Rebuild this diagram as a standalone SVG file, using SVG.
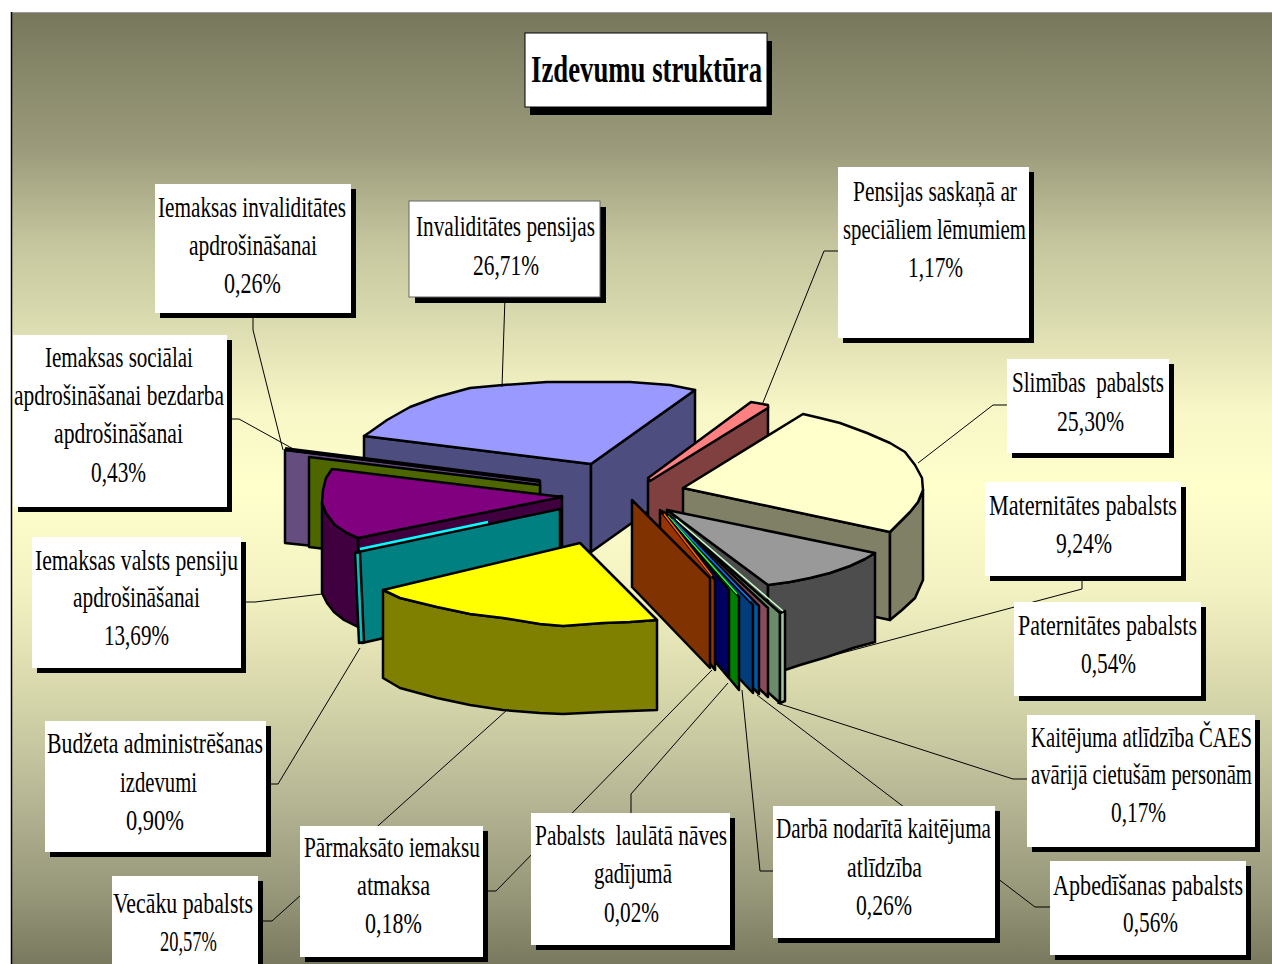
<svg xmlns="http://www.w3.org/2000/svg" width="1272" height="964" viewBox="0 0 1272 964">
<style>
.sh{fill:#000}
.box{fill:#fff}
.t{font-family:"Liberation Serif","Times New Roman",serif;font-size:29px;fill:#000;white-space:pre}
.ttl{font-family:"Liberation Serif","Times New Roman",serif;font-size:38px;font-weight:bold;fill:#000}
.s{stroke:#000;stroke-width:2.5;stroke-linejoin:round}
.ld{fill:none;stroke:#000;stroke-width:1}
</style>
<defs>
<linearGradient id="bg" x1="0" y1="0" x2="0" y2="1">
<stop offset="0" stop-color="#77775c"/>
<stop offset="0.145" stop-color="#9c9c7c"/>
<stop offset="0.25" stop-color="#c8c8a0"/>
<stop offset="0.303" stop-color="#d5d5ab"/>
<stop offset="0.42" stop-color="#f7f7c7"/>
<stop offset="0.5" stop-color="#ffffcc"/>
<stop offset="0.6" stop-color="#f3f3c3"/>
<stop offset="0.723" stop-color="#d5d5aa"/>
<stop offset="0.83" stop-color="#b5b594"/>
<stop offset="0.93" stop-color="#959578"/>
<stop offset="1" stop-color="#78785e"/>
</linearGradient>
</defs>
<rect x="0" y="0" width="1272" height="964" fill="#fff"/>
<rect x="11" y="12" width="1262" height="953" fill="url(#bg)"/>
<line x1="11" y1="12.5" x2="1272" y2="12.5" stroke="#9a9a9a" stroke-width="1"/>
<line x1="11.5" y1="12" x2="11.5" y2="964" stroke="#000" stroke-width="1.5"/>

<g id="pie">
<g id="slice-invaliditates-pensijas">
<path class="s" fill="#4d4d80" d="M364,436 L591,464 L591,552 L364,524 Z"/>
<path class="s" fill="#4d4d80" d="M591,464 L695,390 L695,478 L591,552 Z"/>
<path class="s" fill="#9999ff" d="M364,436 L370,432 L387,420 L410,407 L437,397 L470,388 L503,385 L547,382 L630,382 L670,385 L695,390 L591,464 Z"/>
</g>
<g id="slice-pensijas-specialiem">
<path class="s" fill="#804040" d="M648,480 L768,407 L768,495 L648,568 Z"/>
<path class="s" fill="#ff8080" d="M648,478 L751,402 L768,405 L768,408 L650,481 Z"/>
</g>
<g id="slice-slimibas">
<path class="s" fill="#808066" d="M683,488 L890,532 L890,620 L683,576 Z"/>
<path class="s" fill="#808066" d="M890,532 L900,522 L910,512 L918,502 L923,490 L923,580 L915,598 L902,610 L890,620 Z"/>
<path class="s" fill="#ffffcc" d="M683,488 L803,414 L820,418 L840,423 L867,433 L890,443 L905,452 L915,465 L922,478 L923,490 L918,502 L910,512 L900,522 L890,532 Z"/>
</g>
<g id="slice-maternitates">
<path class="s" fill="#4d4d4d" d="M667,510 L768,585 L768,673 L667,598 Z"/>
<path class="s" fill="#4d4d4d" d="M768,585 L790,582 L810,578 L830,573 L850,566 L865,559 L875,553 L875,642 L853,648 L827,657 L800,665 L785,670 L768,673 Z"/>
<path class="s" fill="#999999" d="M667,510 L875,553 L865,559 L850,566 L830,573 L810,578 L790,582 L768,585 Z"/>
</g>
<g id="thin-slices">
<path class="s" fill="#6b8c6b" d="M672,518 L780,613 L780,703 L672,606 Z"/>
<path class="s" fill="#a0c8a0" stroke-width="1.5" d="M780,613 L785,611 L785,701 L780,703 Z"/>
<line x1="676" y1="519" x2="783" y2="611" stroke="#ccffcc" stroke-width="1.5"/>
<path class="s" fill="#8a4b5a" d="M670,516 L768,608 L768,697 L670,604 Z"/>
<path class="s" fill="#0058a8" d="M668,515 L759,606 L759,694 L668,603 Z"/>
<path class="s" fill="#003d7a" d="M666,514 L753,605 L753,693 L666,602 Z"/>
<line x1="672" y1="519" x2="751" y2="601" stroke="#0080ff" stroke-width="1.5"/>
<path class="s" fill="#008000" d="M664,512 L739,597 L739,690 L664,600 Z"/>
<line x1="668" y1="516" x2="737" y2="594" stroke="#33ff33" stroke-width="1.5"/>
<path class="s" fill="#000060" d="M662,511 L729,590 L729,678 L662,599 Z"/>
<path class="s" fill="#993300" d="M660,510 L715,580 L715,670 L660,598 Z"/>
<line x1="664" y1="514" x2="712" y2="576" stroke="#ff6600" stroke-width="1.5"/>
<path class="s" fill="#803300" d="M632,500 L710,578 L710,668 L632,587 Z"/>
</g>
<g id="left-thin-slices">
<path class="s" fill="#664d80" d="M285,450 L540,481 L540,570 L285,543 Z"/>
<path class="s" fill="#4d6600" d="M309,457 L540,485 L540,575 L309,547 Z"/>
<line x1="285" y1="449" x2="540" y2="481" stroke="#000" stroke-width="4"/>
</g>
<g id="slice-iemaksas-valsts-pensiju">
<path class="s" fill="#400040" d="M358,538 L562,496 L562,584 L358,626 Z"/>
<path class="s" fill="#400040" d="M358,538 L347,533 L335,525 L326,513 L322,503 L322,593 L327,603 L334,612 L344,620 L358,627 Z"/>
<path class="s" fill="#800080" d="M332,469 L562,497 L358,538 L347,533 L335,525 L326,513 L322,503 L323,490 L326,478 Z"/>
</g>
<g id="slice-budzeta">
<path class="s" fill="#008080" d="M358,552 L560,509 L560,598 L362,643 Z"/>
<path class="s" fill="#00c0c0" stroke-width="1.5" d="M355,553 L360,552 L364,642 L359,643 Z"/>
<line x1="360" y1="549" x2="488" y2="522" stroke="#00ffff" stroke-width="2.5"/>
</g>
<g id="slice-vecaku">
<path class="s" fill="#808000" d="M383,590 L400,598 L437,607 L470,614 L503,618 L540,624 L563,626 L603,623 L630,622 L657,620 L657,710 L630,711 L603,712 L563,714 L540,713 L503,710 L470,705 L437,698 L400,688 L383,678 Z"/>
<path class="s" fill="#ffff00" d="M580,543 L383,590 L400,598 L437,607 L470,614 L503,618 L540,624 L563,626 L603,623 L630,622 L657,620 Z"/>
</g>
</g>

<g id="connectors">
<path class="ld" d="M505,297 L502,387"/>
<path class="ld" d="M838,251 L824,251 L762,405"/>
<path class="ld" d="M1007,405 L993,405 L918,463"/>
<path class="ld" d="M1082,576 L1082,589 L827,657"/>
<path class="ld" d="M1027,779 L1013,779 L777,703"/>
<path class="ld" d="M1050,907 L1035,907 L757,695"/>
<path class="ld" d="M773,871 L760,871 L742,690"/>
<path class="ld" d="M631,813 L631,794 L728,683"/>
<path class="ld" d="M483,891 L496,891 L712,670"/>
<path class="ld" d="M258,921 L272,921 L507,710"/>
<path class="ld" d="M266,784 L278,784 L360,648"/>
<path class="ld" d="M241,602 L255,602 L322,594"/>
<path class="ld" d="M227,419 L239,419 L297,451"/>
<path class="ld" d="M253,313 L253,330 L283,450"/>
</g>

<g id="title">
<rect class="sh" x="530" y="41" width="242" height="74"/>
<rect class="box" x="525" y="33" width="242" height="74" stroke="#000" stroke-width="1"/>
<text class="ttl" transform="translate(531,82) scale(0.72,1)" textLength="321" lengthAdjust="spacingAndGlyphs">Izdevumu struktūra</text>
</g>

<g id="label-iemaksas-invaliditates">
<rect class="sh" x="160" y="189" width="196" height="129"/>
<rect class="box" x="155" y="184" width="196" height="129"/>
<text class="t" transform="translate(158,217) scale(0.76,1)" textLength="247.4" lengthAdjust="spacingAndGlyphs">Iemaksas invaliditātes</text>
<text class="t" transform="translate(189,255) scale(0.76,1)" textLength="168.4" lengthAdjust="spacingAndGlyphs">apdrošināšanai</text>
<text class="t" transform="translate(224,293) scale(0.76,1)" textLength="75" lengthAdjust="spacingAndGlyphs">0,26%</text>
</g>

<g id="label-invaliditates-pensijas">
<rect class="sh" x="415" y="207" width="191" height="96"/>
<rect class="box" x="409" y="201" width="191" height="96" stroke="#666" stroke-width="1"/>
<text class="t" transform="translate(416,236) scale(0.76,1)" textLength="235.5" lengthAdjust="spacingAndGlyphs">Invaliditātes pensijas</text>
<text class="t" transform="translate(473,275) scale(0.76,1)" textLength="86.8" lengthAdjust="spacingAndGlyphs">26,71%</text>
</g>

<g id="label-pensijas-specialiem">
<rect class="sh" x="843" y="172" width="191" height="171"/>
<rect class="box" x="838" y="167" width="191" height="171"/>
<text class="t" transform="translate(853,201) scale(0.76,1)" textLength="215.8" lengthAdjust="spacingAndGlyphs">Pensijas saskaņā ar</text>
<text class="t" transform="translate(843,239) scale(0.76,1)" textLength="240.8" lengthAdjust="spacingAndGlyphs">speciāliem lēmumiem</text>
<text class="t" transform="translate(908,277) scale(0.76,1)" textLength="72.4" lengthAdjust="spacingAndGlyphs">1,17%</text>
</g>

<g id="label-slimibas">
<rect class="sh" x="1012" y="364" width="162" height="94"/>
<rect class="box" x="1007" y="359" width="162" height="94"/>
<text class="t" transform="translate(1012,392) scale(0.76,1)" textLength="200" lengthAdjust="spacingAndGlyphs">Slimības  pabalsts</text>
<text class="t" transform="translate(1057,431) scale(0.76,1)" textLength="88.2" lengthAdjust="spacingAndGlyphs">25,30%</text>
</g>

<g id="label-maternitates">
<rect class="sh" x="990" y="487" width="196" height="94"/>
<rect class="box" x="985" y="482" width="196" height="94"/>
<text class="t" transform="translate(989,515) scale(0.76,1)" textLength="247.4" lengthAdjust="spacingAndGlyphs">Maternitātes pabalsts</text>
<text class="t" transform="translate(1056,553) scale(0.76,1)" textLength="73.7" lengthAdjust="spacingAndGlyphs">9,24%</text>
</g>

<g id="label-paternitates">
<rect class="sh" x="1019" y="607" width="187" height="94"/>
<rect class="box" x="1014" y="602" width="187" height="94"/>
<text class="t" transform="translate(1018,635) scale(0.76,1)" textLength="235.5" lengthAdjust="spacingAndGlyphs">Paternitātes pabalsts</text>
<text class="t" transform="translate(1081,673) scale(0.76,1)" textLength="72.4" lengthAdjust="spacingAndGlyphs">0,54%</text>
</g>

<g id="label-kaitejuma-caes">
<rect class="sh" x="1032" y="720" width="228" height="132"/>
<rect class="box" x="1027" y="715" width="228" height="132"/>
<text class="t" transform="translate(1031,747) scale(0.76,1)" textLength="290.8" lengthAdjust="spacingAndGlyphs">Kaitējuma atlīdzība ČAES</text>
<text class="t" transform="translate(1031,784) scale(0.76,1)" textLength="290.8" lengthAdjust="spacingAndGlyphs">avārijā cietušām personām</text>
<text class="t" transform="translate(1111,822) scale(0.76,1)" textLength="72.4" lengthAdjust="spacingAndGlyphs">0,17%</text>
</g>

<g id="label-apbedisanas">
<rect class="sh" x="1055" y="866" width="196" height="94"/>
<rect class="box" x="1050" y="861" width="196" height="94"/>
<text class="t" transform="translate(1053,895) scale(0.76,1)" textLength="250" lengthAdjust="spacingAndGlyphs">Apbedīšanas pabalsts</text>
<text class="t" transform="translate(1123,932) scale(0.76,1)" textLength="72.4" lengthAdjust="spacingAndGlyphs">0,56%</text>
</g>

<g id="label-darba-nodarita">
<rect class="sh" x="778" y="811" width="222" height="132"/>
<rect class="box" x="773" y="806" width="222" height="132"/>
<text class="t" transform="translate(776,838) scale(0.76,1)" textLength="282.9" lengthAdjust="spacingAndGlyphs">Darbā nodarītā kaitējuma</text>
<text class="t" transform="translate(847,877) scale(0.76,1)" textLength="98.7" lengthAdjust="spacingAndGlyphs">atlīdzība</text>
<text class="t" transform="translate(856,915) scale(0.76,1)" textLength="73.7" lengthAdjust="spacingAndGlyphs">0,26%</text>
</g>

<g id="label-pabalsts-laulata">
<rect class="sh" x="536" y="818" width="199" height="132"/>
<rect class="box" x="531" y="813" width="199" height="132"/>
<text class="t" transform="translate(535,845) scale(0.76,1)" textLength="252.6" lengthAdjust="spacingAndGlyphs">Pabalsts  laulātā nāves</text>
<text class="t" transform="translate(594,883) scale(0.76,1)" textLength="102.6" lengthAdjust="spacingAndGlyphs">gadījumā</text>
<text class="t" transform="translate(604,922) scale(0.76,1)" textLength="72.4" lengthAdjust="spacingAndGlyphs">0,02%</text>
</g>

<g id="label-parmaksato">
<rect class="sh" x="305" y="831" width="183" height="131"/>
<rect class="box" x="300" y="826" width="183" height="131"/>
<text class="t" transform="translate(304,857) scale(0.76,1)" textLength="231.6" lengthAdjust="spacingAndGlyphs">Pārmaksāto iemaksu</text>
<text class="t" transform="translate(357,895) scale(0.76,1)" textLength="96.1" lengthAdjust="spacingAndGlyphs">atmaksa</text>
<text class="t" transform="translate(365,933) scale(0.76,1)" textLength="75" lengthAdjust="spacingAndGlyphs">0,18%</text>
</g>

<g id="label-vecaku">
<rect class="sh" x="117" y="881" width="146" height="100"/>
<rect class="box" x="112" y="876" width="146" height="100"/>
<text class="t" transform="translate(113,913) scale(0.76,1)" textLength="184.2" lengthAdjust="spacingAndGlyphs">Vecāku pabalsts</text>
<text class="t" transform="translate(160,951) scale(0.76,1)" textLength="75" lengthAdjust="spacingAndGlyphs">20,57%</text>
</g>

<g id="label-budzeta">
<rect class="sh" x="50" y="726" width="221" height="131"/>
<rect class="box" x="45" y="721" width="221" height="131"/>
<text class="t" transform="translate(47,753) scale(0.76,1)" textLength="284.2" lengthAdjust="spacingAndGlyphs">Budžeta administrēšanas</text>
<text class="t" transform="translate(120,792) scale(0.76,1)" textLength="101.3" lengthAdjust="spacingAndGlyphs">izdevumi</text>
<text class="t" transform="translate(126,830) scale(0.76,1)" textLength="76.3" lengthAdjust="spacingAndGlyphs">0,90%</text>
</g>

<g id="label-iemaksas-valsts-pensiju">
<rect class="sh" x="37" y="542" width="209" height="131"/>
<rect class="box" x="32" y="537" width="209" height="131"/>
<text class="t" transform="translate(35,570) scale(0.76,1)" textLength="267.1" lengthAdjust="spacingAndGlyphs">Iemaksas valsts pensiju</text>
<text class="t" transform="translate(73,607) scale(0.76,1)" textLength="167.1" lengthAdjust="spacingAndGlyphs">apdrošināšanai</text>
<text class="t" transform="translate(104,645) scale(0.76,1)" textLength="85.5" lengthAdjust="spacingAndGlyphs">13,69%</text>
</g>

<g id="label-iemaksas-sociala">
<rect class="sh" x="18" y="340" width="214" height="172"/>
<rect class="box" x="13" y="335" width="214" height="172"/>
<text class="t" transform="translate(45,367) scale(0.76,1)" textLength="194.7" lengthAdjust="spacingAndGlyphs">Iemaksas sociālai</text>
<text class="t" transform="translate(14,405) scale(0.76,1)" textLength="276.3" lengthAdjust="spacingAndGlyphs">apdrošināšanai bezdarba</text>
<text class="t" transform="translate(54,443) scale(0.76,1)" textLength="169.7" lengthAdjust="spacingAndGlyphs">apdrošināšanai</text>
<text class="t" transform="translate(91,482) scale(0.76,1)" textLength="72.4" lengthAdjust="spacingAndGlyphs">0,43%</text>
</g>
</svg>
